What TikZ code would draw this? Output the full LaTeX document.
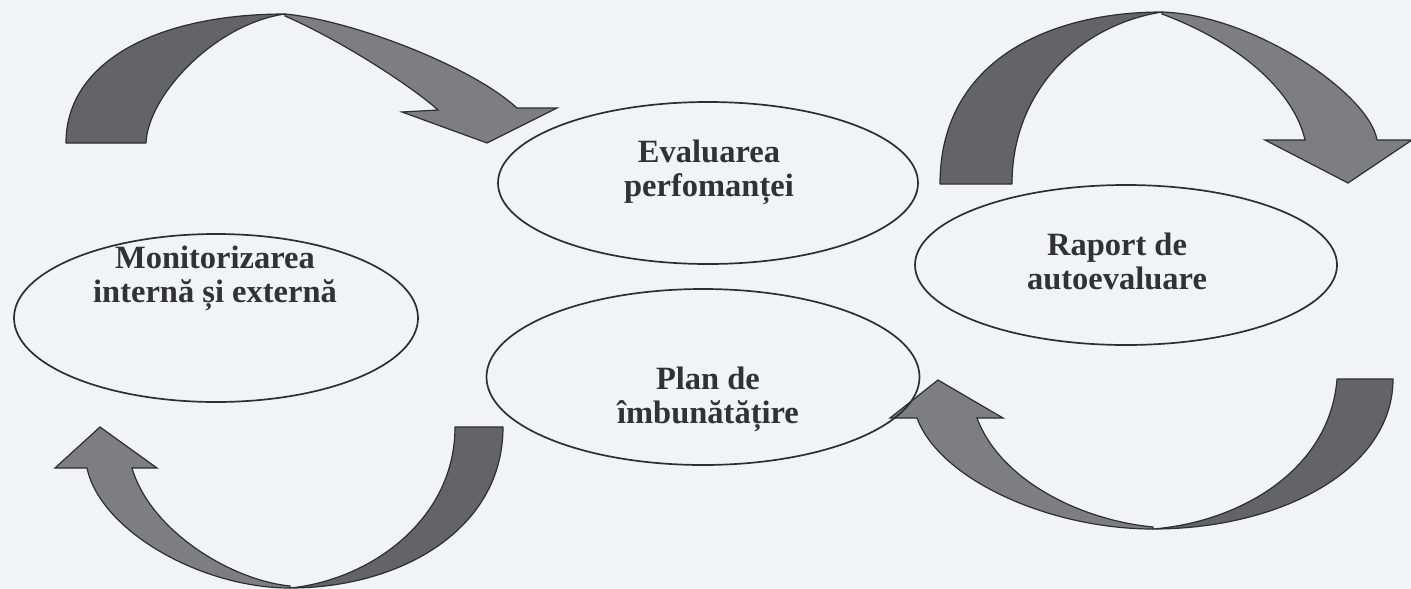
\documentclass[tikz,border=0pt]{standalone}
\usepackage{fontspec}
\setmainfont{Liberation Serif}
\usetikzlibrary{shapes.geometric}
\definecolor{bgc}{RGB}{242,243,247}
\definecolor{bandD}{RGB}{100,100,102}
\definecolor{bandL}{RGB}{126,126,128}
\definecolor{edgec}{RGB}{45,45,50}
\definecolor{txtc}{RGB}{50,50,52}
\begin{document}
\begin{tikzpicture}[x=1pt,y=-1pt,
  ell/.style={draw=edgec, line width=1.7pt, ellipse, inner sep=0pt, outer sep=0pt},
  lbl/.style={font=\fontsize{32.5}{34}\selectfont\bfseries, text=txtc, align=center, inner sep=0pt},
  bandd/.style={fill=bandD, draw=edgec, line width=1.2pt, line join=round},
  bandl/.style={fill=bandL, draw=edgec, line width=1.2pt, line join=miter}]
\useasboundingbox[fill=bgc] (0,0) rectangle (1411,589);
\begin{scope}
\clip (0,0) rectangle (1411,589);
% top-left curved arrow
\draw[bandd] (66,143) .. controls (66,60) and (160,14) .. (285,14)
  .. controls (215,24) and (148,95) .. (146,143) -- cycle;
\draw[bandl] (285,14) .. controls (350,20) and (470,65) .. (517,108)
  -- (557,108) -- (487,143) -- (402,112) -- (438,110)
  .. controls (410,85) and (340,40) .. (285,16) -- cycle;
% top-right curved arrow
\draw[bandd] (940,184) .. controls (940,60) and (1050,12) .. (1162,12)
  .. controls (1080,25) and (1012,90) .. (1012,184) -- cycle;
\draw[bandl] (1162,12) .. controls (1255,15) and (1370,95) .. (1377,140)
  -- (1412,140) -- (1348,183) -- (1265,140) -- (1305,140)
  .. controls (1295,95) and (1245,45) .. (1162,14) -- cycle;
% bottom-left curved arrow
\draw[bandd] (455,427) -- (503,427) .. controls (503,530) and (400,588) .. (290,588)
  .. controls (370,580) and (455,520) .. (455,427) -- cycle;
\draw[bandl] (290,588) .. controls (200,588) and (100,530) .. (87,468)
  -- (55,468) -- (100,427) -- (157,468) -- (132,468)
  .. controls (150,530) and (230,580) .. (290,586) -- cycle;
% bottom-right curved arrow
\draw[bandd] (1337,379) -- (1393,379) .. controls (1393,470) and (1280,529) .. (1153,529)
  .. controls (1240,522) and (1330,470) .. (1337,379) -- cycle;
\draw[bandl] (1153,529) .. controls (1050,529) and (940,480) .. (917,418)
  -- (890,418) -- (938,380) -- (1003,418) -- (977,418)
  .. controls (1000,480) and (1080,520) .. (1153,527) -- cycle;
\end{scope}
% ellipses
\node[ell, minimum width=420pt, minimum height=162pt] (eval) at (708,183) {};
\node[ell, minimum width=433pt, minimum height=176pt] (plan) at (703,377) {};
\node[ell, minimum width=404pt, minimum height=168pt] (mon) at (216,318) {};
\node[ell, minimum width=422pt, minimum height=160pt] (rap) at (1126,265) {};
% labels
\node[lbl] (evalt) at (709,172) {Evaluarea\\perfomanței};
\node[lbl] (plant) at (708,399) {Plan de\\îmbunătățire};
\node[lbl] (mont) at (215,278) {Monitorizarea\\internă și externă};
\node[lbl] (rapt) at (1117,261) {Raport de\\autoevaluare};
\end{tikzpicture}
\end{document}
